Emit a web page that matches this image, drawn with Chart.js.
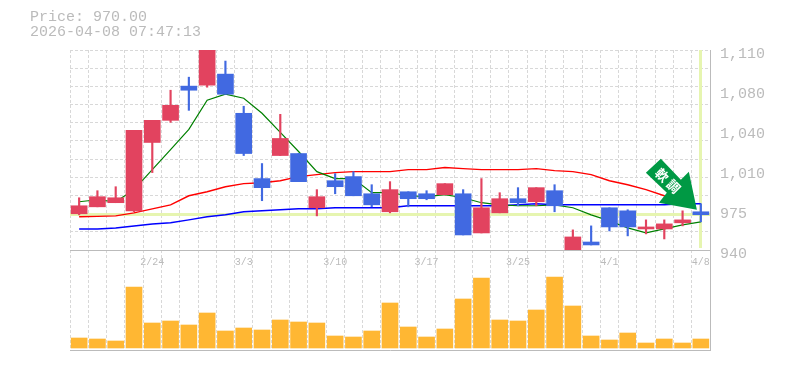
<!DOCTYPE html>
<html lang="ja">
  <head>
    <meta charset="utf-8">
    <title>Price chart</title>
    <script src="https://cdn.jsdelivr.net/npm/chart.js"></script>
    <style>
      body { margin: 0; background: #fff; }
      #price-title { position: absolute; left: 30px; top: 10px; font: 15px/15px "Liberation Mono", monospace; color: #bbb; white-space: pre; }
      canvas { position: absolute; left: 0; top: 0; }
    </style>
  </head>
  <body>
    <canvas id="myChart" width="785" height="370"></canvas>
    <div id="price-title">Price: 970.00
2026-04-08 07:47:13</div>
    <script>
      var dates = ['2/17','2/18','2/19','2/20','2/24','2/25','2/26','2/27','3/2','3/3','3/4','3/5','3/6','3/9','3/10','3/11','3/12','3/13','3/16','3/17','3/18','3/19','3/23','3/24','3/25','3/26','3/27','3/30','3/31','4/1','4/2','4/3','4/6','4/7','4/8'];
      var shownDates = ['2/24','3/3','3/10','3/17','3/25','4/1','4/8'];

      // candles
      var open  = [970.8,976.7,980.2,973.3,1031.4,1050.2,1079.3,1080.1,1089.5,1056.2,1000.7,1020.3,1022,975.9,998.9,1002.4,987.8,972.5,989.5,987.8,987,987.8,954.5,971.6,983.6,981,990.4,940,946.8,975.9,973.3,957.9,957.9,963.1,972.5];
      var close = [977.6,985.3,984.4,1041.7,1050.2,1063,1075.8,1110,1072.4,1022,993,1034.8,998.1,985.3,993.8,986.1,978.4,991.3,983.6,983.6,996.4,952.8,975.9,983.6,980.2,993,977.6,951.1,944.3,959.6,959.6,959.6,962.2,965.6,970];
      var high  = [984.4,990.4,993.8,1041.7,1050.2,1075.8,1086.9,1110,1100.6,1062.2,1013.5,1055.3,1022,991.3,1004.9,1006.6,995.5,998.1,989.5,990.4,996.4,991.3,1000.7,988.7,993,993,995.5,957.1,960.5,975.9,974.2,965.6,965.6,973.3,979.3];
      var low   = [969.9,976.7,980.2,972.5,1005.8,1048.5,1058.7,1078.4,1072.4,1020.3,981.9,1020.3,998.1,969,987.8,986.1,976.7,971.6,976.7,982.7,987,952.8,954.5,971.6,977.6,977.6,972.5,940,944.3,956.2,952,953.7,949.4,960.5,963.9];

      var volume = [10,9,7,61,25,27,23,35,17,20,18,28,26,25,12,11,17,45,21,11,19,49,70,28,27,38,71,42,12,8,15,5,9,5,9];

      // moving averages
      var maShort = [981,982.7,981,991.3,1008.3,1025.4,1042.5,1067.3,1072.4,1069,1056.2,1040,1023.7,1006.6,1000.7,1000.7,988.7,988.7,986.1,985.3,987,984.4,980.2,978.4,977.6,977.6,978.4,975.9,969.9,964.8,958.8,954.5,957.9,961.4,963.9];
      var maMid   = [968.2,968.6,969,971.6,975,978.4,986.1,989.5,993.8,996.4,997.2,998.9,1002.4,1004.1,1005.8,1006.6,1006.6,1006.6,1008.3,1008.3,1010.1,1009.2,1008.3,1008.3,1008.3,1009.2,1007.5,1006.6,1004.1,998.9,995.5,991.3,986.1,982.7,null];
      var maLong  = [957.9,957.9,958.8,960.5,962.2,963.1,965.6,968.2,969.9,972.5,973.3,974.2,975,975,975.9,975.9,975.9,975.9,977.6,977.6,977.6,977.6,977.6,977.6,978.4,979.3,978.4,978.4,978.4,978.4,978.4,978.4,978.4,979.3,979.3];

      var lastPrice = 970;
      var gridTicks = [940,955.45,970.91,986.36,1001.82,1017.27,1032.73,1048.18,1063.64,1079.09,1094.55,1110];
      var priceTicks = [940,974,1008,1042,1076,1110];
      var priceLabels = ['940','975','1,010','1,040','1,080','1,110'];
      var arrowText = ['軟','調'];

      var RED = '#e2435f', BLUE = '#4169e1', GRID = '#d8d8d8', AXIS = '#bbb', HILITE = '#e6f5b0';

      var bodies = open.map(function (o, i) { return [o, close[i]]; });
      var wicks = low.map(function (l, i) { return [l, high[i]]; });
      var candleColors = open.map(function (o, i) { return close[i] > o ? RED : BLUE; });

      // lime cross at the latest price + arrow marker
      var overlay = {
        id: 'overlay',
        beforeDatasetsDraw: function (chart) {
          var c = chart.ctx, a = chart.chartArea, y = chart.scales.y, x = chart.scales.x;
          var py = Math.round(y.getPixelForValue(lastPrice));
          var px = Math.round(x.getPixelForValue(dates.length - 1));
          c.save();
          c.fillStyle = HILITE;
          c.fillRect(a.left, py - 2, a.right - a.left, 3);
          c.fillRect(px - 2, y.top, 3, y.bottom - y.top - 2);
          c.restore();
        },
        afterDatasetsDraw: function (chart) {
          var c = chart.ctx, x = chart.scales.x, y = chart.scales.y;
          // arrow tip sits just above the last candle's high
          var tx = x.getPixelForValue(dates.length - 1) - 4;
          var ty = y.getPixelForValue(high[high.length - 1]) + 6;
          var shape = [[-36,-51],[-51,-37],[-30,-17],[-38,-7],[0,0],[-8,-38],[-16,-30]];
          c.save();
          c.translate(tx, ty);
          c.fillStyle = '#009944';
          c.beginPath();
          shape.forEach(function (p, i) { if (i) c.lineTo(p[0], p[1]); else c.moveTo(p[0], p[1]); });
          c.closePath();
          c.fill();
          c.translate(-29, -29);
          c.rotate(Math.PI / 4);
          c.fillStyle = '#fff';
          c.font = 'bold 13px "Noto Sans CJK JP"';
          c.textAlign = 'center';
          c.textBaseline = 'middle';
          c.fillText(arrowText[0], -8, 0);
          c.fillText(arrowText[1], 8, 0);
          c.restore();
        }
      };

      new Chart('myChart', {
        type: 'bar',
        plugins: [overlay],
        data: {
          labels: dates,
          datasets: [
            { type: 'bar', data: bodies, backgroundColor: candleColors, barThickness: 16, grouped: false, yAxisID: 'y', order: 1 },
            { type: 'bar', data: wicks, backgroundColor: candleColors, barThickness: 1.5, grouped: false, yAxisID: 'y', order: 2 },
            { type: 'line', data: maShort, borderColor: '#008000', borderWidth: 1.2, pointRadius: 0, yAxisID: 'y', order: 3 },
            { type: 'line', data: maMid, borderColor: '#f00', borderWidth: 1.4, pointRadius: 0, yAxisID: 'y', order: 3 },
            { type: 'line', data: maLong, borderColor: '#00f', borderWidth: 1.5, pointRadius: 0, yAxisID: 'y', order: 3 },
            { type: 'bar', data: volume, backgroundColor: '#ffb733', barThickness: 16, grouped: false, yAxisID: 'vol', order: 4 }
          ]
        },
        options: {
          responsive: false,
          animation: false,
          layout: { padding: { left: 70, top: 50, bottom: 20, right: 0 } },
          plugins: { legend: { display: false }, tooltip: { enabled: false } },
          scales: {
            x: {
              position: { y: 940 },
              grid: { color: GRID, drawTicks: false },
              border: { color: AXIS, dash: [3, 2] },
              ticks: {
                autoSkip: false, maxRotation: 0, padding: 6, color: AXIS,
                font: { family: '"Liberation Mono"', size: 10 },
                callback: function (v) {
                  var label = this.getLabelForValue(v);
                  return shownDates.indexOf(label) >= 0 ? label : '';
                }
              }
            },
            x2: {
              position: 'bottom',
              grid: { display: false, drawTicks: false },
              border: { color: AXIS },
              ticks: { display: false }
            },
            y: {
              stack: 'panels', stackWeight: 200, position: 'right', min: 940, max: 1110,
              afterFit: function (s) { s.width = 75; },
              afterBuildTicks: function (s) {
                s.ticks = gridTicks.concat(priceTicks.slice(1, -1)).map(function (v) { return { value: v }; });
              },
              grid: {
                drawTicks: false,
                lineWidth: function (ctx) { return ctx.tick && gridTicks.indexOf(ctx.tick.value) >= 0 ? 1 : 0; },
                color: GRID
              },
              border: { color: AXIS, dash: [3, 2] },
              ticks: {
                autoSkip: false, padding: 10, color: AXIS, labelOffset: 4,
                font: { family: '"Liberation Mono"', size: 15 },
                callback: function (v) { var i = priceTicks.indexOf(v); return i >= 0 ? priceLabels[i] : ''; }
              }
            },
            vol: {
              stack: 'panels', stackWeight: 100, position: 'right', min: -2, max: 98,
              afterFit: function (s) { s.width = 75; },
              grid: { display: false, drawTicks: false },
              border: { color: AXIS },
              ticks: { display: false }
            }
          }
        }
      });
    </script>
  </body>
</html>
